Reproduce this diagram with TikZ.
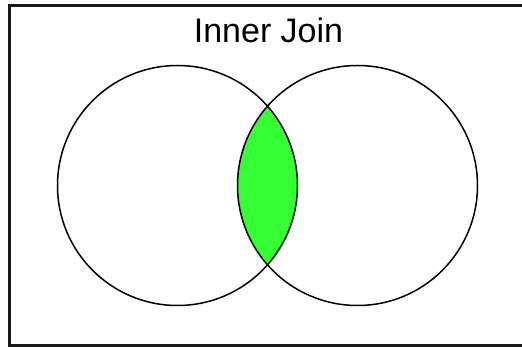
\documentclass[tikz,border=0pt]{standalone}
\usepackage{fontspec}
\setmainfont{Liberation Sans}
\usepackage{xcolor}
\usetikzlibrary{positioning}
\definecolor{lensgreen}{HTML}{33FF33}
\definecolor{framegrey}{HTML}{1A1A1A}

\tikzset{
  setring/.style={draw=black, line width=1.5pt},
  frameline/.style={draw=framegrey, line width=2.2pt}
}

\begin{document}
\begin{tikzpicture}[x=1pt, y=-1pt]
  \useasboundingbox (0,0) rectangle (522,347);
  % frame, cut off on the right
  \draw[frameline] (523,5.5) -- (9.5,5.5) -- (9.5,345.5) -- (523,345.5);
  % the two sets
  \coordinate (left) at (177.5,185.5);
  \coordinate (right) at (357.5,185.5);
  \begin{scope}
    \clip (left) circle (120);
    \fill[lensgreen] (right) circle (120);
  \end{scope}
  \draw[setring] (left) circle (120);
  \draw[setring] (right) circle (120);
  \node[anchor=base, inner sep=0pt, font=\fontsize{34}{38}\selectfont]
    (title) at (268.5,43) {Inner Join};
\end{tikzpicture}
\end{document}
